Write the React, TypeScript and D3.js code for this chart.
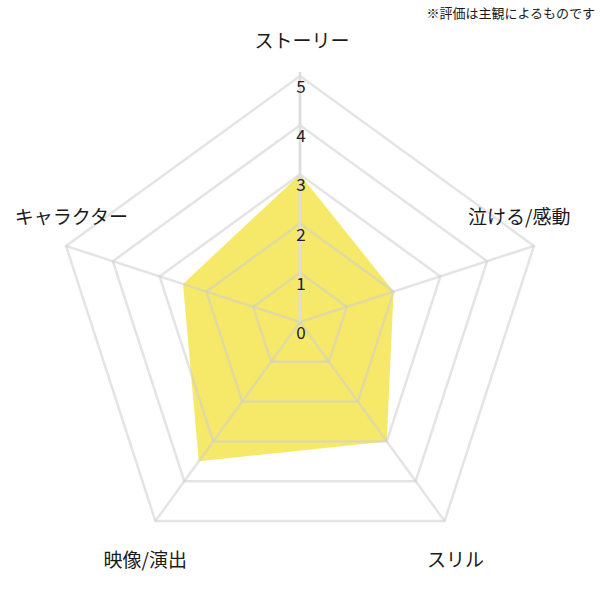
import React from "react";
import * as d3 from "d3";

const categories = ["ストーリー", "泣ける/感動", "スリル", "映像/演出", "キャラクター"];
const values = [3, 2, 3, 3.5, 2.5];
const tickValues = [0, 1, 2, 3, 4, 5];
const note = "※評価は主観によるものです";

// label layout: position and anchor per axis
const labelLayout: [number, number, string][] = [
  [302, 39, "middle"],
  [468, 215, "start"],
  [427, 558, "start"],
  [187, 558, "end"],
  [128, 215, "end"],
];

const W = 600;
const H = 600;
const cx = 300;
const cy = 322;
const R = 246;
const FONT = "'Noto Sans CJK JP', 'Noto Sans', sans-serif";

export default function App() {
  const r = d3.scaleLinear().domain([0, 5]).range([0, R]);
  const n = categories.length;
  const ang = (i: number) => (i * 2 * Math.PI) / n;
  const pt = (i: number, v: number): [number, number] => [
    cx + r(v) * Math.sin(ang(i)),
    cy - r(v) * Math.cos(ang(i)),
  ];
  const closed = d3.line<[number, number]>().curve(d3.curveLinearClosed);
  const dataPath = closed(values.map((v, i) => pt(i, v))) || "";
  const gridColor = "rgba(205,205,205,0.55)";

  return (
    <svg
      width={W}
      height={H}
      style={{ position: "absolute", left: 0, top: 0, background: "#fff" }}
      fontFamily={FONT}
    >
      <path d={dataPath} fill="#f6e96a" stroke="none" />
      {tickValues.slice(1).map((t) => (
        <path
          key={t}
          d={closed(categories.map((_, i) => pt(i, t))) || ""}
          fill="none"
          stroke={gridColor}
          strokeWidth={2.5}
        />
      ))}
      {categories.map((_, i) => {
        const [x, y] = pt(i, 5);
        return (
          <line key={i} x1={cx} y1={cy} x2={x} y2={y} stroke={gridColor} strokeWidth={2.5} />
        );
      })}
      <line
        x1={cx}
        y1={cy}
        x2={pt(0, 5)[0]}
        y2={pt(0, 5)[1] - 4}
        stroke="#dedede"
        strokeWidth={2.5}
      />
      {tickValues.map((t) => (
        <text
          key={t}
          x={cx + 1}
          y={cy - r(t) + 9.5}
          textAnchor="middle"
          dominantBaseline="central"
          fontSize={17}
          fill="#222"
        >
          {t}
        </text>
      ))}
      {categories.map((c, i) => (
        <text
          key={c}
          x={labelLayout[i][0]}
          y={labelLayout[i][1]}
          textAnchor={labelLayout[i][2] as any}
          dominantBaseline="central"
          fontSize={19}
          fill="#1a1a1a"
        >
          {c}
        </text>
      ))}
      <text x={595} y={12} textAnchor="end" dominantBaseline="central" fontSize={13} fill="#1a1a1a">
        {note}
      </text>
    </svg>
  );
}
